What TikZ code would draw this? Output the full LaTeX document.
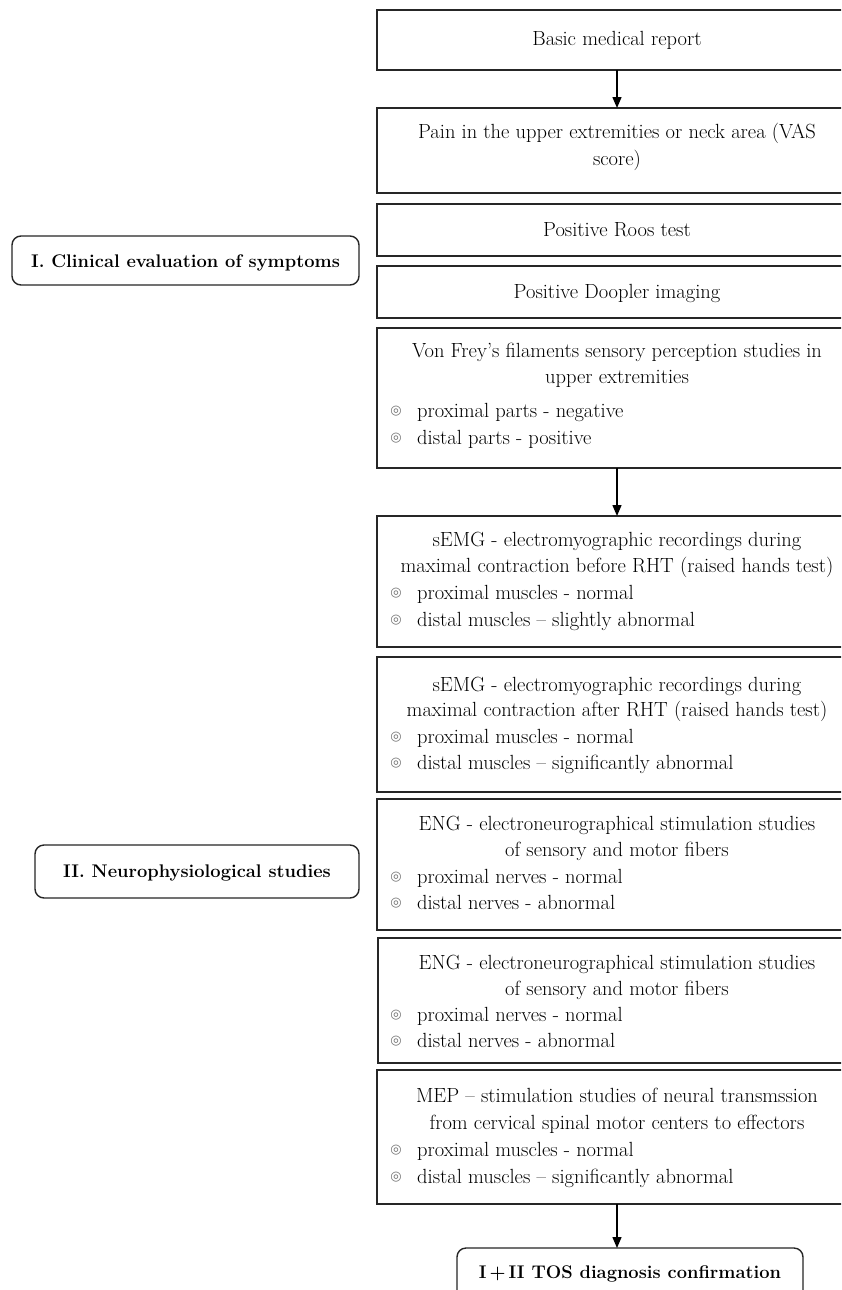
\documentclass[tikz,border=0pt]{standalone}
\usepackage{fontspec}
\newfontfamily\symfont{DejaVu Sans}
\usetikzlibrary{arrows.meta}
\tikzset{
  box/.style={draw=black!85, line width=1.4pt, inner sep=0pt, outer sep=0pt, anchor=north west, minimum width=480pt},
  sidebox/.style={draw=black!85, line width=1.4pt, rounded corners=9pt, inner sep=0pt, outer sep=0pt, anchor=north west},
  txt/.style={font=\fontsize{20.5}{26}\selectfont, inner sep=0pt, anchor=base},
  btxt/.style={font=\fontsize{18.3}{26}\selectfont\bfseries, inner sep=0pt, anchor=base},
  ltxt/.style={font=\fontsize{20.5}{26}\selectfont, inner sep=0pt, anchor=base west},
  bul/.style={font=\fontsize{13}{15}\selectfont\symfont, text=black!55, inner sep=0pt, anchor=center},
  arr/.style={draw=black, line width=1.4pt, -{Triangle[length=11pt,width=9pt]}}
}
\begin{document}
\begin{tikzpicture}[x=1pt,y=-1pt]
\useasboundingbox (0,0) rectangle (841,1290);
\fill[white] (0,0) rectangle (841,1290);
\clip (0,0) rectangle (841,1290);

% main column boxes
\node[box, minimum height=60pt] (b1) at (377,10) {};
\node[txt] (t1) at (617,46) {Basic medical report};

\node[box, minimum height=85pt] (b2) at (377,108) {};
\node[txt] (t2a) at (617,138) {Pain in the upper extremities or neck area (VAS};
\node[txt] (t2b) at (617,165) {score)};

\node[box, minimum height=52pt] (b3) at (377,204) {};
\node[txt] (t3) at (617,236) {Positive Roos test};

\node[box, minimum height=52pt] (b4) at (377,266) {};
\node[txt] (t4) at (617,298) {Positive Doopler imaging};

\node[box, minimum height=140pt] (b5) at (377,328) {};
\node[txt] (t5a) at (617,357) {Von Frey’s filaments sensory perception studies in};
\node[txt] (t5b) at (617,383) {upper extremities};
\node[bul] (u5a) at (396,411) {◎};
\node[ltxt] (t5c) at (417,417) {proximal parts - negative};
\node[bul] (u5b) at (396,438) {◎};
\node[ltxt] (t5d) at (417,444) {distal parts - positive};

\node[box, minimum height=131pt] (b6) at (377,516) {};
\node[txt] (t6a) at (617,546) {sEMG - electromyographic recordings during};
\node[txt] (t6b) at (617,572) {maximal contraction before RHT (raised hands test)};
\node[bul] (u6a) at (396,593) {◎};
\node[ltxt] (t6c) at (417,599) {proximal muscles - normal};
\node[bul] (u6b) at (396,620) {◎};
\node[ltxt] (t6d) at (417,626) {distal muscles – slightly abnormal};

\node[box, minimum height=135pt] (b7) at (377,657) {};
\node[txt] (t7a) at (617,691) {sEMG - electromyographic recordings during};
\node[txt] (t7b) at (617,716) {maximal contraction after RHT (raised hands test)};
\node[bul] (u7a) at (396,737) {◎};
\node[ltxt] (t7c) at (417,743) {proximal muscles - normal};
\node[bul] (u7b) at (396,763) {◎};
\node[ltxt] (t7d) at (417,769) {distal muscles – significantly abnormal};

\node[box, minimum height=131pt] (b8) at (377,799) {};
\node[txt] (t8a) at (617,830) {ENG - electroneurographical stimulation studies};
\node[txt] (t8b) at (617,856) {of sensory and motor fibers};
\node[bul] (u8a) at (396,877) {◎};
\node[ltxt] (t8c) at (417,883) {proximal nerves - normal};
\node[bul] (u8b) at (396,903) {◎};
\node[ltxt] (t8d) at (417,909) {distal nerves - abnormal};

\node[box, minimum height=125pt] (b9) at (378,938) {};
\node[txt] (t9a) at (617,969) {ENG - electroneurographical stimulation studies};
\node[txt] (t9b) at (617,995) {of sensory and motor fibers};
\node[bul] (u9a) at (396,1015) {◎};
\node[ltxt] (t9c) at (417,1021) {proximal nerves - normal};
\node[bul] (u9b) at (396,1041) {◎};
\node[ltxt] (t9d) at (417,1047) {distal nerves - abnormal};

\node[box, minimum height=134pt] (b10) at (377,1070) {};
\node[txt] (t10a) at (617,1102) {MEP – stimulation studies of neural transmssion};
\node[txt] (t10b) at (617,1129) {from cervical spinal motor centers to effectors};
\node[bul] (u10a) at (396,1150) {◎};
\node[ltxt] (t10c) at (417,1156) {proximal muscles - normal};
\node[bul] (u10b) at (396,1177) {◎};
\node[ltxt] (t10d) at (417,1183) {distal muscles – significantly abnormal};

% final box
\node[sidebox, minimum width=346pt, minimum height=70pt] (fin) at (457,1248) {};
\node[btxt] (tfin) at (630,1278) {I\,+\,II TOS diagnosis confirmation};

% side boxes
\node[sidebox, minimum width=347pt, minimum height=49pt] (s1) at (12,236) {};
\node[btxt] (ts1) at (185.5,267) {I. Clinical evaluation of symptoms};
\node[sidebox, minimum width=324pt, minimum height=53pt] (s2) at (35,845) {};
\node[btxt] (ts2) at (197,877) {II. Neurophysiological studies};

% connectors
\draw[arr] (b1.south) -- (b2.north);
\draw[arr] (b5.south) -- (b6.north);
\draw[arr] (b10.south) -- (b10.south |- fin.north);
\end{tikzpicture}
\end{document}
